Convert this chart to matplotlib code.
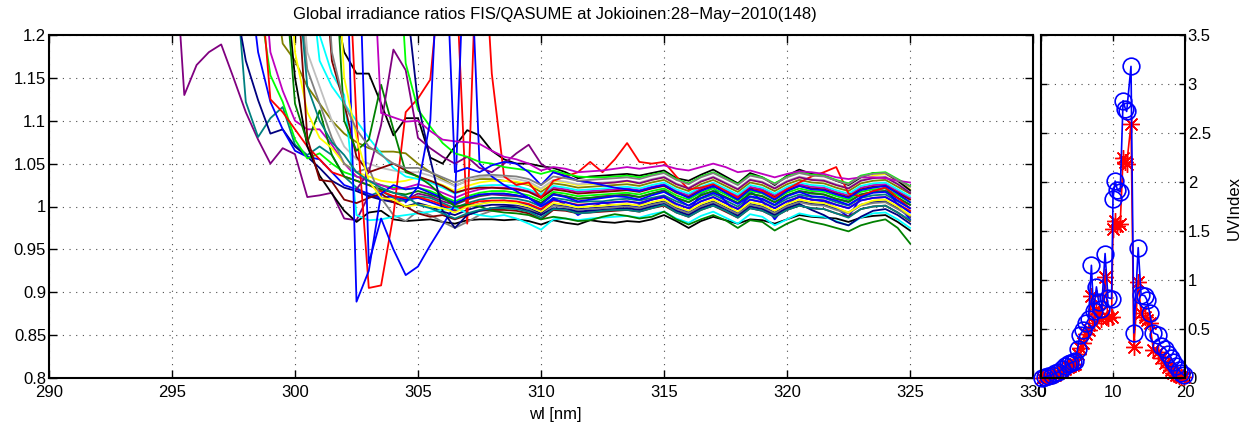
import matplotlib
matplotlib.use("Agg")
import matplotlib.pyplot as plt
import numpy as np

plt.rcParams['font.family'] = ['Liberation Sans', 'DejaVu Sans']
plt.rcParams['font.size'] = 12

# spectral ratios FIS/QASUME, per-mille, 0.5 nm steps, every series ends at 325 nm
end_wl = 325.0
step = 0.5

s01 = [1350, 1130, 1165, 1180, 1189, 1150, 1110, 1078, 1050, 1068, 1061, 1011, 1013, 1016, 986,
       984, 1013, 1010, 1005, 1008, 1015, 1012, 1006, 1002, 1008, 1012, 1014, 1013, 1012, 1010,
       1004, 1015, 1012, 1009, 1010, 1012, 1013, 1014, 1011, 1015, 1019, 1010, 1005, 1013, 1018,
       1011, 1004, 1015, 1012, 1005, 1013, 1018, 1016, 1014, 1009, 1006, 1014, 1017, 1018, 1010, 1002]
s02 = [1300, 1122, 1081, 1103, 1116, 1072, 1060, 1070, 1060, 1035, 1022, 1012, 1018, 1010, 1006,
       1012, 1010, 1004, 998, 1004, 1008, 1010, 1010, 1009, 1006,
       1000, 1010, 1008, 1005, 1006, 1006, 1008, 1009, 1007, 1010, 1013, 1006, 1001, 1009, 1014,
       1007, 1000, 1011, 1008, 1001, 1009, 1014, 1011, 1010, 1005, 1001, 1010, 1013, 1014, 1006, 998]
s03 = [1250, 1170, 1124, 1085, 1090, 1070, 1058, 1045, 1030, 1022, 1018, 1012, 1008, 1005, 1000,
       1004, 1000, 994, 990, 996, 1000, 1002, 1002, 1001, 998,
       992, 1002, 1000, 997, 998, 999, 1000, 1001, 999, 1003, 1006, 998, 993, 1001, 1006,
       999, 992, 1003, 1000, 993, 1001, 1006, 1003, 1002, 997, 993, 1002, 1005, 1006, 998, 988]
s04 = [1300, 1180, 1122, 1090, 1065, 1058, 1055, 1040, 1025, 1020, 1015, 1010, 1012, 1008,
       1010, 1005, 1000, 995, 1000, 1003, 1006, 1007, 1005, 1002,
       995, 1010, 1002, 990, 998, 1005, 1000, 996, 1002, 1008, 1012, 1000, 994, 1015, 1022,
       1006, 990, 1018, 1006, 985, 1003, 1012, 1008, 1006, 998, 988, 1010, 1018, 1022, 1002, 985]
s05 = [1250, 1153, 1122, 1078, 1056, 1062, 1050, 1040, 1035, 1030, 1025, 1022, 1020,
       1022, 1018, 1012, 1006, 1012, 1016, 1018, 1018, 1016, 1013,
       1007, 1017, 1015, 1012, 1013, 1014, 1015, 1016, 1014, 1018, 1021, 1013, 1008, 1016, 1021,
       1014, 1007, 1018, 1015, 1008, 1016, 1021, 1018, 1017, 1012, 1008, 1017, 1020, 1021, 1013, 1005]
s06 = [1350, 1180, 1135, 1100, 1090, 1090, 1072, 1050, 1035, 1030, 1025, 1020, 1022,
       1026, 1022, 1016, 1010, 1016, 1020, 1022, 1022, 1021, 1018,
       1012, 1022, 1020, 1017, 1018, 1019, 1020, 1021, 1019, 1023, 1026, 1018, 1013, 1021, 1026,
       1019, 1012, 1023, 1020, 1013, 1021, 1026, 1023, 1022, 1017, 1013, 1022, 1025, 1026, 1018, 1010]
s07 = [1300, 1125, 1110, 1090, 1070, 1055, 1040, 1035, 1030, 1025, 1018, 1012, 1010,
       1011, 1007, 1002, 996, 1002, 1006, 1007, 1007, 1006, 1003,
       997, 1007, 1005, 1002, 1003, 1004, 1005, 1006, 1004, 1008, 1011, 1003, 998, 1006, 1011,
       1004, 997, 1008, 1005, 998, 1006, 1011, 1008, 1007, 1002, 998, 1007, 1010, 1011, 1003, 995]
s08 = [1300, 1190, 1170, 1140, 1120, 1100, 1085, 1075, 1068, 1064, 1064, 1062,
       1050, 1040, 1032, 1024, 1030, 1032, 1032, 1030, 1028, 1025,
       1017, 1027, 1025, 1022, 1023, 1024, 1025, 1026, 1024, 1028, 1031, 1023, 1018, 1026, 1031,
       1024, 1017, 1028, 1025, 1018, 1026, 1031, 1028, 1027, 1022, 1018, 1027, 1030, 1031, 1023, 1015]
s09 = [1300, 1150, 1070, 1036, 1015, 995, 982, 993, 995, 985, 983,
       984, 985, 982, 980, 984, 985, 985, 984, 985, 983,
       979, 984, 981, 979, 984, 982, 981, 983, 982, 985, 990, 983, 975, 983, 988,
       984, 980, 985, 984, 980, 985, 990, 988, 987, 986, 982, 987, 989, 990, 982, 972]
s10 = [1300, 1120, 1075, 1112, 1060, 1035, 1030, 1025, 1020, 1016, 1014,
       1018, 1014, 1009, 1003, 1009, 1013, 1015, 1015, 1013, 1010,
       1004, 1014, 1012, 1009, 1010, 1011, 1012, 1013, 1011, 1015, 1018, 1010, 1005, 1013, 1018,
       1011, 1004, 1015, 1012, 1005, 1013, 1018, 1015, 1014, 1009, 1005, 1014, 1017, 1018, 1010, 1002]
s11 = [1400, 1180, 1110, 1080, 1068, 1050, 1040, 1035, 1030, 1028, 1030,
       1034, 1030, 1025, 1018, 1024, 1028, 1030, 1030, 1029, 1026,
       1020, 1030, 1028, 1025, 1026, 1027, 1028, 1029, 1027, 1031, 1034, 1026, 1021, 1029, 1034,
       1027, 1020, 1031, 1028, 1021, 1029, 1034, 1031, 1030, 1025, 1021, 1030, 1036, 1038, 1030, 1020]
s12 = [1350, 1180, 1140, 1100, 1070, 1055, 1050, 1045, 1042, 1040,
       1040, 1036, 1030, 1024, 1030, 1034, 1035, 1034, 1032, 1029,
       1021, 1031, 1029, 1026, 1027, 1028, 1029, 1030, 1028, 1032, 1035, 1027, 1022, 1030, 1035,
       1028, 1021, 1032, 1029, 1022, 1030, 1035, 1032, 1031, 1026, 1022, 1031, 1034, 1035, 1027, 1019]
s13 = [1300, 1160, 1120, 1080, 1050, 1040, 1045, 1010, 990, 983,
       995, 990, 982, 975, 982, 990, 995, 998, 1000, 997,
       990, 1001, 999, 996, 997, 998, 999, 1000, 998, 1002, 1005, 997, 992, 1000, 1005,
       998, 991, 1002, 999, 992, 1000, 1005, 1002, 1001, 996, 992, 1001, 1004, 1005, 997, 989]
s14 = [1300, 1170, 1140, 1120, 1100, 1080, 1062, 1045, 1035,
       1032, 1028, 1022, 1015, 1020, 1024, 1025, 1025, 1024, 1020,
       1014, 1024, 1022, 1019, 1020, 1021, 1022, 1023, 1021, 1025, 1028, 1020, 1015, 1023, 1028,
       1021, 1014, 1025, 1022, 1015, 1023, 1028, 1025, 1024, 1019, 1015, 1024, 1027, 1028, 1020, 1012]
s15 = [1350, 1200, 1155, 1130, 990, 984, 985, 988, 990,
       992, 994, 996, 998, 993, 990, 988, 990, 986, 980,
       973, 985, 986, 984, 986, 987, 988, 989, 987, 991, 994, 986, 981, 989, 994,
       987, 980, 991, 988, 978, 985, 992, 989, 988, 983, 978, 987, 992, 993, 985, 975]
s16 = [1300, 1080, 1031, 1029, 1008, 1004, 1010, 1015, 1005, 1000,
       992, 988, 990, 985, 990, 995, 996, 996, 995, 992,
       985, 996, 995, 992, 993, 994, 995, 996, 994, 998, 1001, 993, 988, 996, 1001,
       994, 987, 998, 995, 988, 996, 1001, 998, 997, 992, 988, 997, 1000, 1001, 993, 983]
s17 = [1350, 1170, 1120, 1058, 1040, 1045, 1050, 1042,
       1035, 1030, 1024, 1016, 1020, 1022, 1022, 1021, 1020, 1017,
       1010, 1020, 1018, 1015, 1016, 1017, 1018, 1019, 1017, 1021, 1024, 1016, 1011, 1019, 1024,
       1017, 1010, 1021, 1018, 1011, 1019, 1024, 1021, 1020, 1015, 1011, 1020, 1023, 1024, 1016, 1008]
s18 = [1400, 1250, 1180, 1155, 1155, 1120, 1083, 1103,
       1103, 1057, 1050, 1070, 1089, 1083, 1065, 1055, 1050, 1050,
       1047, 1045, 1040, 1033, 1035, 1036, 1037, 1038, 1036, 1039, 1042, 1033, 1030, 1037, 1043,
       1035, 1027, 1039, 1034, 1025, 1036, 1043, 1038, 1036, 1030, 1025, 1034, 1039, 1039, 1030, 1019]
s19 = [1400, 1100, 905, 908, 990, 1110,
       1126, 1148, 1300, 1300, 980, 1400, 1155, 1035, 1025, 1028,
       1010, 1030, 1035, 1040, 1052, 1040, 1055, 1074, 1052, 1050, 1052, 1035, 1020, 1022, 1026,
       1018, 1010, 1020, 1018, 1010, 1020, 1028, 1035, 1040, 1046, 1015, 1012, 1018, 1022, 1010, 998]
s20 = [1400, 889, 925, 1015, 1025, 1020,
       1022, 1016, 1010, 1004, 1010, 1014, 1015, 1015, 1013, 1010,
       1002, 1014, 1011, 1006, 1008, 1010, 1012, 1011, 1008, 1013, 1017, 1009, 1001, 1010, 1016,
       1010, 1003, 1012, 1009, 1002, 1012, 1017, 1012, 1011, 1007, 1002, 1011, 1016, 1017, 1007, 998]
s21 = [1400, 934, 986, 950, 920,
       930, 955, 978, 1002, 1400, 1050, 1035, 1025, 1018, 1010,
       1000, 1008, 1005, 1001, 1003, 1004, 1005, 1006, 1004, 1008, 1011, 1003, 998, 1006, 1011,
       1004, 997, 1008, 1005, 998, 1006, 1011, 1008, 1007, 1002, 998, 1007, 1010, 1011, 1003, 993]
s22 = [1350, 1100, 1065, 1078, 1142, 1090, 1040,
       1035, 1025, 1012, 1000, 1002, 1000, 995, 993, 992, 990,
       985, 988, 986, 983, 984, 988, 991, 989, 986, 988, 994, 985, 979, 985, 990,
       984, 975, 984, 982, 972, 980, 986, 982, 979, 975, 971, 978, 982, 985, 975, 957]
s23 = [1020, 1040, 1095, 1183, 1159,
       1080, 1068, 1058, 1050, 1058, 1045, 1040, 1050, 1062, 1072,
       1050, 1040, 1036, 1030, 1028, 1027, 1028, 1030, 1027, 1031, 1034, 1026, 1021, 1029, 1034,
       1027, 1020, 1031, 1028, 1021, 1029, 1034, 1031, 1030, 1025, 1021, 1030, 1033, 1034, 1026, 1016]
s24 = [1400, 1167,
       1113, 1093, 1074, 1062, 1058, 1052, 1050, 1046, 1044, 1042,
       1038, 1042, 1038, 1035, 1034, 1034, 1035, 1036, 1034, 1037, 1040, 1032, 1027, 1035, 1040,
       1033, 1026, 1037, 1034, 1027, 1035, 1040, 1037, 1036, 1031, 1027, 1036, 1039, 1040, 1032, 1024]
s25 = [1400, 1250,
       1120, 1055, 995, 975, 990, 995, 998, 1000, 999, 995,
       990, 998, 997, 994, 995, 996, 997, 998, 996, 1000, 1003, 995, 990, 998, 1003,
       996, 989, 1000, 997, 990, 998, 1003, 996, 990, 982, 978, 988, 995, 997, 990, 980]
s26 = [1400, 1109, 1104, 1099,
       1100, 1088, 1078, 1076, 1075, 1073, 1065, 1058, 1055, 1050,
       1042, 1046, 1044, 1040, 1041, 1042, 1044, 1046, 1044, 1046, 1048, 1044, 1042, 1046, 1050,
       1046, 1040, 1042, 1038, 1034, 1038, 1041, 1040, 1038, 1034, 1032, 1034, 1034, 1033, 1030, 1028]
s27 = [1005,
       1023, 1100, 1400, 1040, 1045, 1040, 1048, 1052, 1050, 1040,
       1025, 1040, 1035, 1030, 1028, 1025, 1022, 1020, 1018, 1022, 1025, 1017, 1010, 1018, 1024,
       1016, 1008, 1020, 1016, 1008, 1018, 1024, 1020, 1019, 1014, 1010, 1019, 1022, 1024, 1015, 1005]
s28 = [1400, 1150, 1080, 1030, 1010, 1008, 1000,
       1002, 1000, 998, 993, 1000, 1003, 1005, 1005, 1004, 1000,
       994, 1004, 1002, 999, 1000, 1001, 1002, 1003, 1001, 1005, 1008, 1000, 995, 1003, 1008,
       1001, 994, 1005, 1002, 995, 1003, 1008, 1005, 1004, 999, 993, 1002, 1007, 1008, 1000, 990]
s29 = [1400, 1180, 1120, 1090, 1070, 1060, 1050, 1045,
       1045, 1040, 1034, 1028, 1033, 1036, 1037, 1036, 1035, 1032,
       1025, 1035, 1033, 1030, 1031, 1032, 1033, 1034, 1032, 1036, 1039, 1031, 1026, 1034, 1039,
       1032, 1025, 1036, 1033, 1026, 1034, 1039, 1036, 1035, 1030, 1026, 1035, 1038, 1039, 1031, 1023]
s30 = [1300, 1140, 1100, 1075, 1060, 1040, 1030, 1022, 1016, 1012,
       1002, 998, 992, 986, 992, 996, 998, 998, 997, 994,
       987, 997, 996, 992, 993, 995, 996, 996, 994, 998, 1002, 993, 988, 996, 1001,
       995, 987, 998, 995, 988, 996, 1001, 998, 997, 992, 987, 997, 1000, 1001, 993, 984]

ratio_series = [s01, s02, s03, s04, s05, s06, s07, s08, s09, s10, s11, s12, s13, s14, s15,
                s16, s17, s18, s19, s20, s21, s22, s23, s24, s25, s26, s27, s28, s29, s30]

pu, te, nv = (0.5, 0, 0.5), (0, 0.5, 0.5), (0, 0, 0.5)
ol, dg, mr = (0.5, 0.5, 0), (0, 0.5, 0), (0.5, 0, 0)
gr, lg = (0.5, 0.5, 0.5), (0.75, 0.75, 0.75)
series_colors = [pu, te, nv, 'b', 'lime', 'm', 'r', ol, 'k', dg, 'yellow', lg, gr, 'cyan', 'cyan',
                 mr, mr, 'k', 'r', 'b', 'b', dg, pu, 'lime', nv, 'm', 'b', 'yellow', gr, te]

# UV index over the day (hours)
uvi_time = [0.1, 0.5, 1.0, 1.5, 2.0, 2.4, 2.9, 3.3, 3.7, 4.0, 4.4, 4.7, 5.1, 5.4, 5.9, 6.3, 6.6,
            7.0, 7.3, 7.7, 8.0, 8.4, 8.9, 9.3, 9.8, 10.0, 10.3, 10.6, 11.0, 11.4, 11.7, 11.9,
            12.5, 12.9, 13.5, 13.9, 14.4, 14.7, 15.1, 15.6, 16.2, 16.6, 17.2, 17.7, 18.1, 18.4,
            18.8, 19.1, 19.5, 19.8]
uvi_blue = [0.00, 0.01, 0.02, 0.03, 0.05, 0.06, 0.09, 0.12, 0.14, 0.15, 0.16, 0.17, 0.30, 0.44,
            0.49, 0.56, 0.60, 1.15, 0.68, 0.93, 0.78, 0.70, 1.27, 0.82, 0.81, 1.83, 2.01, 1.92,
            1.90, 2.83, 2.75, 2.72, 3.18, 0.46, 1.33, 0.85, 0.84, 0.80, 0.66, 0.46, 0.44, 0.33,
            0.30, 0.25, 0.20, 0.16, 0.12, 0.08, 0.05, 0.03]
uvi_red = [0.00, 0.01, 0.01, 0.02, 0.03, 0.05, 0.07, 0.09, 0.11, 0.12, 0.13, 0.14, 0.25, 0.31,
           0.36, 0.45, 0.49, 0.84, 0.56, 0.70, 0.66, 0.60, 1.03, 0.61, 0.62, 1.52, 1.60, 1.55,
           1.57, 2.25, 2.20, 2.18, 2.59, 0.32, 0.98, 0.66, 0.62, 0.59, 0.56, 0.29, 0.27, 0.20,
           0.15, 0.11, 0.08, 0.05, 0.03, 0.02, 0.01, 0.01]

fig = plt.figure(figsize=(12.55, 4.32), dpi=100)
ax = fig.add_axes([49 / 1255, 54 / 432, 984 / 1255, 343 / 432])
ax2 = fig.add_axes([1041 / 1255, 54 / 432, 144 / 1255, 343 / 432])

for vals, col in zip(ratio_series, series_colors):
    v = np.array(vals) / 1000.0
    wl = end_wl - step * np.arange(len(v))[::-1]
    ax.plot(wl, v, color=col, lw=1.3)

grid_kw = dict(color='0.3', linestyle=(0, (1, 5)), linewidth=0.8)
ax.set_xlim(290, 330)
ax.set_ylim(0.8, 1.2)
ax.set_xticks(np.arange(290, 331, 5))
ax.set_yticks(np.arange(0.8, 1.201, 0.05))
ax.set_yticklabels(['0.8', '0.85', '0.9', '0.95', '1', '1.05', '1.1', '1.15', '1.2'])
ax.grid(True, **grid_kw)
ax.tick_params(direction='in', length=6, width=1, top=True, right=True, labelsize=12, pad=2)
ax.tick_params(axis='x', pad=5)
for sp in ax.spines.values():
    sp.set_linewidth(1.5)

ax2.plot(uvi_time, uvi_red, color='r', lw=1.2, marker=(8, 2, 0), ms=12, mew=1.0, clip_on=False)
ax2.plot(uvi_time, uvi_blue, color='b', lw=1.2, marker='o', mfc='none', ms=12, mew=1.2,
         clip_on=False)
ax2.set_xlim(0, 20)
ax2.set_ylim(0, 3.5)
ax2.set_xticks([0, 10, 20])
ax2.set_yticks(np.arange(0, 3.51, 0.5))
ax2.set_yticklabels(['0', '0.5', '1', '1.5', '2', '2.5', '3', '3.5'])
ax2.grid(True, **grid_kw)
ax2.tick_params(direction='in', length=4, width=1, top=True, left=True, right=True,
                labelleft=False, labelright=True, labelsize=12, pad=2)
ax2.tick_params(axis='x', pad=5)
for sp in ax2.spines.values():
    sp.set_linewidth(1.5)

fig.text(555 / 1255, 1 - 15 / 432, 'Global irradiance ratios FIS/QASUME at Jokioinen:28\u2212May\u22122010(148)',
         ha='center', va='center', fontsize=12)
fig.text(555 / 1255, 1 - 414 / 432, 'wl [nm]', ha='center', va='center', fontsize=12)
fig.text(1234 / 1255, 1 - 208 / 432, 'UVIndex', ha='center', va='center', rotation=90, fontsize=12)

fig.savefig('out.png', dpi=100)
